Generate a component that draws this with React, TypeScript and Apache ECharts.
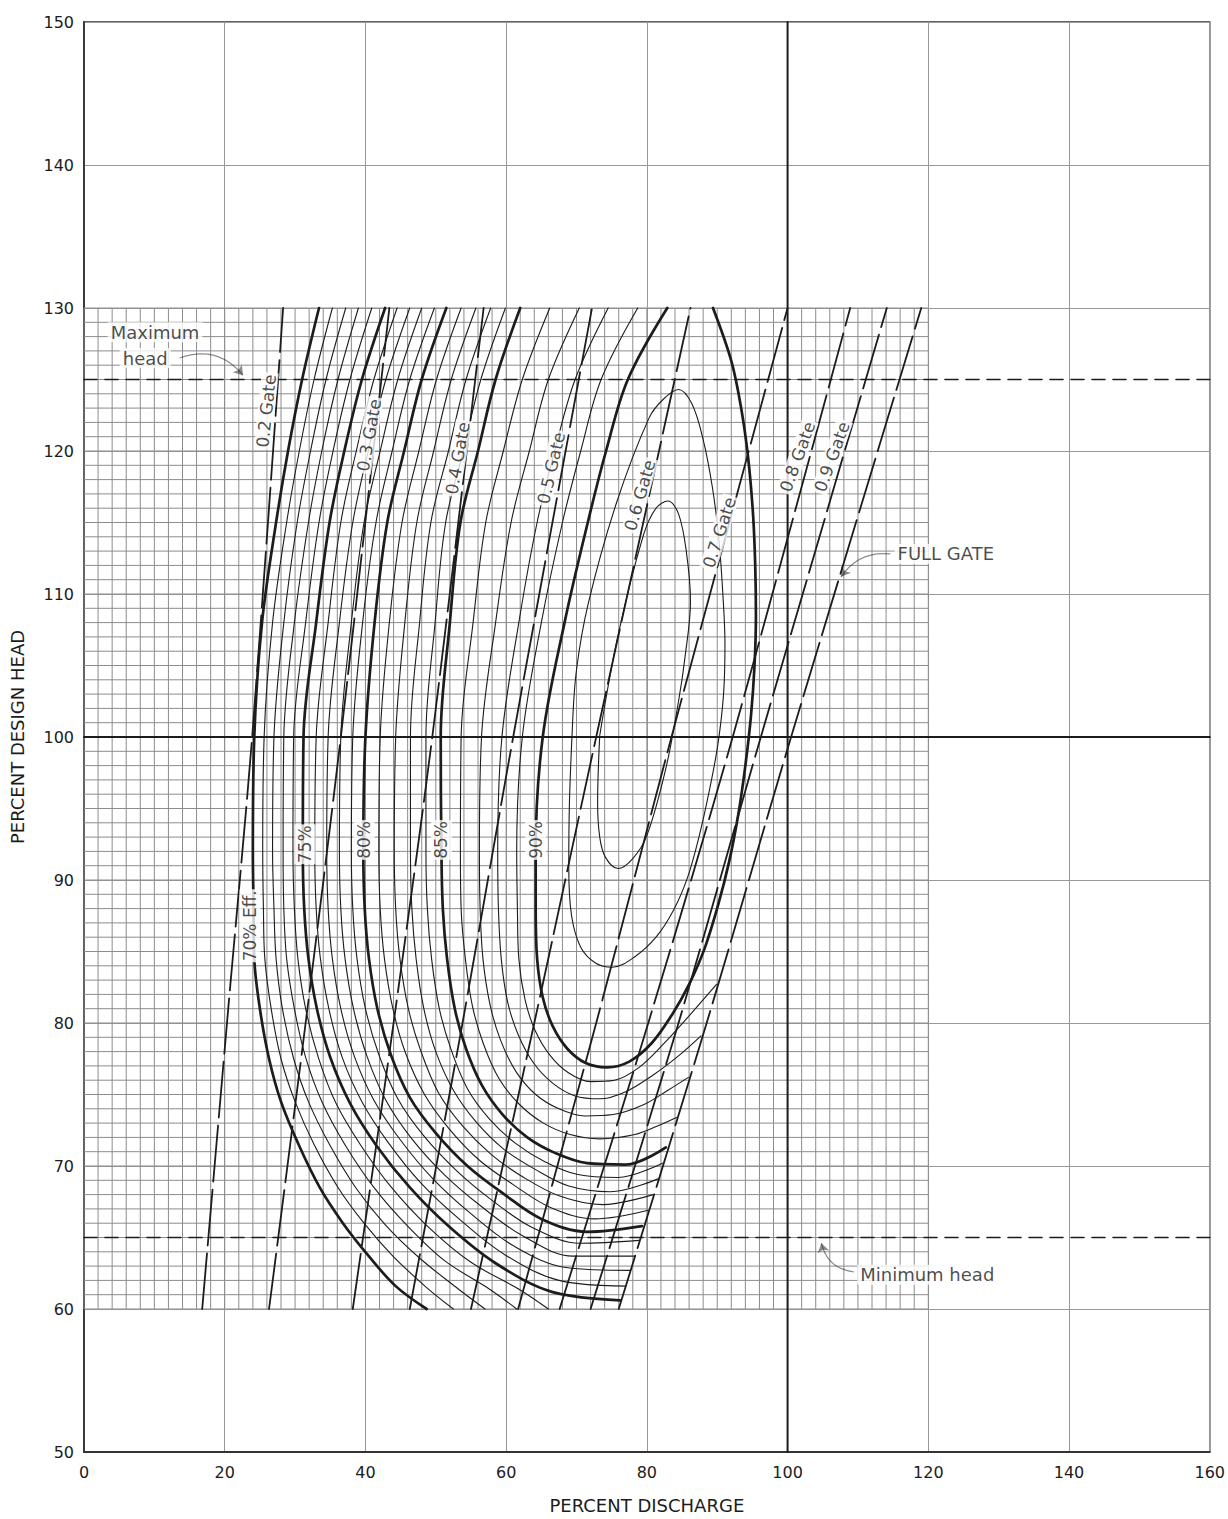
import React, { useEffect, useRef } from "react";
import * as echarts from "echarts";

// ---------- axes ----------
const X_MIN = 0, X_MAX = 160, X_STEP = 20;
const Y_MIN = 50, Y_MAX = 150, Y_STEP = 10;
// fine graph-paper block
const FINE_X0 = 0, FINE_X1 = 120, FINE_DX = 2;
const FINE_Y0 = 60, FINE_Y1 = 130, FINE_DY = 1;
// design lines and head limits
const designDischarge = 100;
const designHead = 100;
const maxHead = 125;
const minHead = 65;

// ---------- gate lines [discharge, head] ----------
const gate02 = [[16.8, 60], [20.5, 81], [23.9, 100], [28.3, 130]];
const gate03 = [[26.3, 60], [31.5, 80], [36.5, 100], [43.4, 130]];
const gate04 = [[38.2, 60], [44, 80], [49.5, 100], [56.8, 130]];
const gate05 = [[46.3, 60], [53.8, 80], [61, 100], [72.2, 130]];
const gate06 = [[55, 60], [64, 80], [72.8, 100], [86.2, 130]];
const gate07 = [[61.7, 60], [72.8, 80], [83.5, 100], [100, 130]];
const gate08 = [[67.6, 60], [80.2, 80], [92.2, 100], [108.9, 130]];
const gate09 = [[72, 60], [84.5, 80], [96.2, 100], [114.1, 130]];
const gateFull = [[76, 60], [88.5, 80], [100.5, 100], [119, 130]];

// ---------- efficiency contours [discharge, head] ----------
const eff70 = [[33.4,130],[31,125],[29,120],[27.3,115],[25.3,108],[24.2,100],[24,92],[24.1,88],[24.2,84.5],[25,81],[26.3,77.5],[28,74.5],[30.5,71.5],[33.5,68.5],[36.8,66],[40.3,63.8],[44.3,61.6],[48.7,60]];
const eff71 = [[35.3,130],[32.7,125],[30.6,120],[28.8,115],[26.8,108],[25.6,100],[25.4,92],[25.5,88],[25.7,84.5],[26.6,81],[28,77.5],[30,74.5],[32.7,71.5],[36.1,68.5],[39.8,66],[43.9,63.7],[48.7,61.5],[52.5,60]];
const eff72 = [[37.2,130],[34.4,125],[32.2,120],[30.3,115],[28.4,108],[27,100],[26.8,92],[27,88],[27.3,84.5],[28.2,81],[29.8,77.5],[31.9,74.5],[34.9,71.5],[38.6,68.5],[42.8,65.9],[47.6,63.6],[53.2,61.4],[57,60]];
const eff73 = [[39,130],[36.1,125],[33.8,120],[31.9,115],[29.9,108],[28.4,100],[28.3,92],[28.4,88],[28.8,84.5],[29.9,81],[31.5,77.6],[33.9,74.4],[37.2,71.4],[41.2,68.5],[45.8,65.9],[51.2,63.4],[57.6,61.4],[61.5,60]];
const eff74 = [[40.9,130],[37.8,125],[35.4,120],[33.4,115],[31.5,108],[29.8,100],[29.7,92],[29.9,88],[30.4,84.5],[31.5,81],[33.3,77.6],[35.8,74.4],[39.4,71.4],[43.7,68.5],[48.8,65.8],[54.9,63.3],[62.1,61.3],[66,60]];
const eff75 = [[42.8,130],[39.5,125],[37,120],[34.9,115],[33,108],[31.2,100],[31.1,92],[31.3,88],[31.9,84.5],[33.1,81],[35,77.6],[37.8,74.4],[41.6,71.4],[46.3,68.5],[51.8,65.8],[58.5,63.2],[66.5,61.2],[76.2,60.6]];
const eff76 = [[44.5,130],[41.2,125],[38.7,120],[36.5,115],[34.7,108],[33,100],[32.8,92],[33,88],[33.6,84.5],[34.8,81],[36.7,77.6],[39.5,74.5],[43.3,71.6],[47.9,68.8],[53.3,66.3],[59.8,63.8],[67.5,62],[77,61.6]];
const eff77 = [[46.3,130],[42.9,125],[40.4,120],[38.2,115],[36.3,108],[34.7,100],[34.5,92],[34.7,88],[35.3,84.5],[36.5,81],[38.4,77.7],[41.2,74.6],[45,71.8],[49.6,69.1],[54.9,66.7],[61.1,64.4],[68.5,62.9],[77.7,62.7]];
const eff78 = [[48,130],[44.6,125],[42.1,120],[39.8,115],[38,108],[36.5,100],[36.3,92],[36.5,88],[37.1,84.5],[38.3,81],[40.2,77.7],[42.9,74.6],[46.6,71.9],[51.2,69.4],[56.4,67.2],[62.4,65.1],[69.5,63.7],[78.3,63.7]];
const eff79 = [[49.8,130],[46.3,125],[43.8,120],[41.5,115],[39.6,108],[38.2,100],[38,92],[38.2,88],[38.8,84.5],[40,81],[41.9,77.8],[44.6,74.7],[48.3,72.1],[52.9,69.7],[58,67.6],[63.7,65.7],[70.5,64.6],[78.9,64.8]];
const eff80 = [[51.5,130],[48,125],[45.5,120],[43.1,115],[41.3,108],[40,100],[39.7,92],[39.9,88],[40.5,84.5],[41.7,81],[43.6,77.8],[46.3,74.8],[50,72.3],[54.5,70],[59.5,68.1],[65,66.3],[71.5,65.4],[79.3,65.8]];
const eff81 = [[53.6,130],[50.1,125],[47.6,120],[45.2,115],[43.4,108],[42.1,100],[41.9,92],[42.1,88],[42.7,84.5],[43.9,81],[45.7,77.9],[48.4,75],[51.9,72.6],[56.2,70.4],[61,68.7],[66.3,67.1],[72.6,66.3],[80.2,66.9]];
const eff82 = [[55.7,130],[52.2,125],[49.7,120],[47.3,115],[45.6,108],[44.3,100],[44.1,92],[44.3,88],[44.9,84.5],[46.1,81],[47.9,78],[50.4,75.1],[53.8,72.8],[57.9,70.8],[62.5,69.2],[67.6,67.9],[73.7,67.3],[80.9,68]];
const eff83 = [[57.8,130],[54.3,125],[51.8,120],[49.3,115],[47.7,108],[46.4,100],[46.4,92],[46.6,88],[47.2,84.5],[48.3,81],[50,78],[52.5,75.3],[55.7,73.1],[59.6,71.2],[64,69.8],[68.9,68.6],[74.8,68.2],[81.6,69.1]];
const eff84 = [[59.9,130],[56.4,125],[53.9,120],[51.4,115],[49.9,108],[48.6,100],[48.6,92],[48.8,88],[49.4,84.5],[50.5,81],[52.2,78.1],[54.5,75.4],[57.6,73.3],[61.3,71.6],[65.5,70.3],[70.2,69.4],[75.9,69.2],[82.2,70.2]];
const eff85 = [[62,130],[58.5,125],[56,120],[53.5,115],[52,108],[50.7,100],[50.8,92],[51,88],[51.6,84.5],[52.7,81],[54.3,78.2],[56.6,75.6],[59.5,73.6],[63,72],[67,70.9],[71.5,70.2],[77,70.1],[82.7,71.3]];
const eff86 = [[66.2,130],[62.3,125],[59.6,120],[57.1,115],[55.3,108],[53.6,100],[53.5,92],[53.6,88],[54.2,84.5],[55.2,81.2],[56.8,78.5],[59,76.1],[61.9,74.3],[65.3,73],[69.1,72.2],[73.3,71.9],[78.3,72.2],[81.5,72.8],[84.2,73.4]];
const eff87 = [[70.4,130],[66,125],[63.3,120],[60.7,115],[58.5,108],[56.5,100],[56.2,92],[56.3,88],[56.7,84.5],[57.7,81.3],[59.2,78.8],[61.4,76.6],[64.2,75],[67.5,74],[71.2,73.5],[75.2,73.6],[79.6,74.3],[83,75.3],[85.9,76.2]];
const eff88 = [[74.5,130],[69.8,125],[66.9,120],[64.4,115],[61.8,108],[59.4,100],[58.8,92],[58.9,88],[59.3,84.5],[60.2,81.5],[61.7,79.2],[63.9,77.2],[66.6,75.8],[69.8,74.9],[73.3,74.7],[77,75.2],[81,76.4],[84.5,77.7],[87.7,79.1]];
const eff89 = [[78.7,130],[73.5,125],[70.6,120],[68,115],[65,108],[62.3,100],[61.5,92],[61.6,88],[61.8,84.5],[62.7,81.6],[64.1,79.5],[66.3,77.7],[68.9,76.5],[72,75.9],[75.4,76],[78.9,76.9],[82.3,78.5],[86,80.5],[89.9,82.7]];
const eff90 = [[82.9,130],[77.3,125],[74.2,120],[71.6,115],[68.3,108],[65.2,100],[64.2,92],[64.2,88],[64.4,84.5],[65.2,81.8],[66.6,79.8],[68.7,78.2],[71.3,77.2],[74.3,76.9],[77.5,77.3],[80.7,78.6],[83.6,80.6],[86,82.7],[88.2,85.2],[90.1,88.2],[91.7,91.3],[93,94.6],[94,98],[94.8,101.5],[95.3,105],[95.5,108.5],[95.4,112],[95.1,115.5],[94.4,119.5],[93.4,123],[92,126.3],[89.4,130]];
const eff91 = [[69.4,100.5],[69,95.5],[68.9,90.9],[69.3,87.5],[70.6,85.3],[72.7,84.2],[75.1,83.9],[78.2,84.6],[81.3,86],[83.8,87.9],[85.8,90.2],[87.4,93],[88.9,96.3],[90.1,99.5],[90.9,103],[91.1,106.5],[90.8,110],[90.2,114],[89.3,117.5],[88,120.8],[86.4,123.3],[84.5,124.3],[82.3,123.6],[80.3,122.3],[75.7,116.4],[71.7,109.4],[70,104.7],[69.4,100.5]];
const eff92 = [[73.3,100.1],[73,95.4],[73.3,93],[74.1,91.6],[75.9,90.8],[78,91.5],[80,93.1],[82.7,97.8],[84.5,102.5],[85.4,105.5],[86.2,109.5],[85.6,113],[84.5,115.6],[83,116.5],[81.3,116],[79.5,114.1],[75.9,107.1],[73.3,100.1]];

const boldContours = [eff70, eff75, eff80, eff85, eff90];
const thinContours = [eff71, eff72, eff73, eff74, eff76, eff77, eff78, eff79, eff81, eff82, eff83, eff84, eff86, eff87, eff88, eff89, eff91, eff92];
const gateLines = [gate02, gate03, gate04, gate05, gate06, gate07, gate08, gate09, gateFull];

// ---------- labels ----------
const gateLabelText = ["0.2 Gate", "0.3 Gate", "0.4 Gate", "0.5 Gate", "0.6 Gate", "0.7 Gate", "0.8 Gate", "0.9 Gate"];
const gateLabelPos = [[25.9, 122.8], [40.5, 121.1], [53.1, 119.5], [66.4, 118.8], [79, 116.9], [90.3, 114.3], [101.4, 119.6], [106.3, 119.6]];
const gateLabelRot = [84, 80, 80, 77, 74, 72, 70, 70];

const effLabelText = ["70% Eff.", "75%", "80%", "85%", "90%"];
const effLabelPos = [[23.6, 86.8], [31.4, 92.5], [39.8, 92.8], [50.8, 92.8], [64.2, 92.8]];

const noteText = ["Maximum", "head", "FULL GATE", "Minimum head"];
const notePos = [[10.1, 128.3], [8.7, 126.5], [115.2, 112.8], [109.9, 62.4]];

const arrowMax = [[13.6, 126.5], [22.6, 125.3]];
const arrowFull = [[114.6, 112.8], [107.6, 111.2]];
const arrowMin = [[109.4, 62.6], [104.8, 64.6]];

const INK = "#1c1c1c";
const FONT = "DejaVu Sans";

function buildFineGrid() {
  const d: any[] = [];
  for (let x = FINE_X0; x <= FINE_X1 + 1e-9; x += FINE_DX) {
    d.push([x, FINE_Y0], [x, FINE_Y1], ["-", "-"]);
  }
  for (let y = FINE_Y0; y <= FINE_Y1 + 1e-9; y += FINE_DY) {
    d.push([FINE_X0, y], [FINE_X1, y], ["-", "-"]);
  }
  return d;
}

function curve(data: number[][], width: number, type: any, z: number, smooth: number | boolean = 0.35) {
  return {
    type: "line",
    data,
    symbol: "none",
    showSymbol: false,
    smooth,
    silent: true,
    z,
    lineStyle: { color: INK, width, type, cap: "round", join: "round" },
  };
}

export default function App() {
  const ref = useRef<HTMLDivElement>(null);
  useEffect(() => {
    if (!ref.current) return;
    const chart = echarts.init(ref.current, undefined, { renderer: "svg" });
    const series: any[] = [];

    series.push({
      type: "line",
      data: buildFineGrid(),
      symbol: "none",
      silent: true,
      connectNulls: false,
      z: 1,
      lineStyle: { color: "#8c8c8c", width: 1 },
    });
    series.push(curve([[designDischarge, Y_MIN], [designDischarge, Y_MAX]], 2, "solid", 3, false));
    series.push(curve([[X_MIN, designHead], [X_MAX, designHead]], 2, "solid", 3, false));
    series.push(curve([[X_MIN, maxHead], [X_MAX, maxHead]], 1.6, [13, 8], 4, false));
    series.push(curve([[X_MIN, minHead], [X_MAX, minHead]], 1.6, [13, 8], 4, false));

    gateLines.forEach((g) => series.push(curve(g, 1.8, [56, 8], 5, 0.3)));
    thinContours.forEach((c) => series.push(curve(c, 1.1, "solid", 6)));
    boldContours.forEach((c) => series.push(curve(c, 2.7, "solid", 7)));

    const labelFont = { fontFamily: FONT, color: INK, backgroundColor: "#fff", textBorderWidth: 0 };
    series.push({
      type: "scatter",
      symbolSize: 0,
      silent: true,
      z: 20,
      data: gateLabelText.map((t, i) => ({
        value: gateLabelPos[i],
        name: t,
        label: { rotate: gateLabelRot[i] },
      })),
      label: { show: true, position: "inside", formatter: "{b}", fontSize: 17, padding: [0, 2], ...labelFont },
    });
    series.push({
      type: "scatter",
      symbolSize: 0,
      silent: true,
      z: 20,
      data: effLabelText.map((t, i) => ({ value: effLabelPos[i], name: t })),
      label: { show: true, position: "inside", rotate: 90, formatter: "{b}", fontSize: 17, padding: [2, 1], ...labelFont },
    });
    series.push({
      type: "scatter",
      symbolSize: 0,
      silent: true,
      z: 20,
      data: noteText.map((t, i) => ({
        value: notePos[i],
        name: t,
        label: i < 2 ? { position: "inside" } : { position: "right", distance: 0 },
      })),
      label: { show: true, formatter: "{b}", fontSize: 18, padding: [1, 3], ...labelFont },
    });
    series.push({
      type: "lines",
      coordinateSystem: "cartesian2d",
      silent: true,
      z: 21,
      symbol: ["none", "arrow"],
      symbolSize: 9,
      lineStyle: { color: INK, width: 1.2, curveness: 0.35 },
      data: [{ coords: arrowMax }, { coords: arrowFull, lineStyle: { curveness: -0.3 } }, { coords: arrowMin, lineStyle: { curveness: 0.35 } }],
    });

    chart.setOption({
      animation: false,
      backgroundColor: "#fff",
      grid: { left: 81, right: 4, top: 22, bottom: 67, show: true, borderColor: "#333", borderWidth: 1.5, backgroundColor: "transparent" },
      xAxis: {
        type: "value",
        min: X_MIN,
        max: X_MAX,
        interval: X_STEP,
        name: "PERCENT DISCHARGE",
        nameLocation: "middle",
        nameGap: 44,
        nameTextStyle: { fontFamily: FONT, fontSize: 18, color: INK },
        axisLine: { show: true, lineStyle: { color: "#333", width: 1.8 } },
        axisTick: { show: false },
        axisLabel: { fontFamily: FONT, fontSize: 16, color: INK, margin: 12 },
        splitLine: { show: true, lineStyle: { color: "#999", width: 1 } },
      },
      yAxis: {
        type: "value",
        min: Y_MIN,
        max: Y_MAX,
        interval: Y_STEP,
        name: "PERCENT DESIGN HEAD",
        nameLocation: "middle",
        nameGap: 58,
        nameRotate: 90,
        nameTextStyle: { fontFamily: FONT, fontSize: 18, color: INK },
        axisLine: { show: true, lineStyle: { color: "#333", width: 1.8 } },
        axisTick: { show: false },
        axisLabel: { fontFamily: FONT, fontSize: 16, color: INK, margin: 10 },
        splitLine: { show: true, lineStyle: { color: "#999", width: 1 } },
      },
      series,
    });
    return () => chart.dispose();
  }, []);
  return <div ref={ref} style={{ position: "fixed", left: 0, top: 0, width: 1228, height: 1519 }} />;
}
